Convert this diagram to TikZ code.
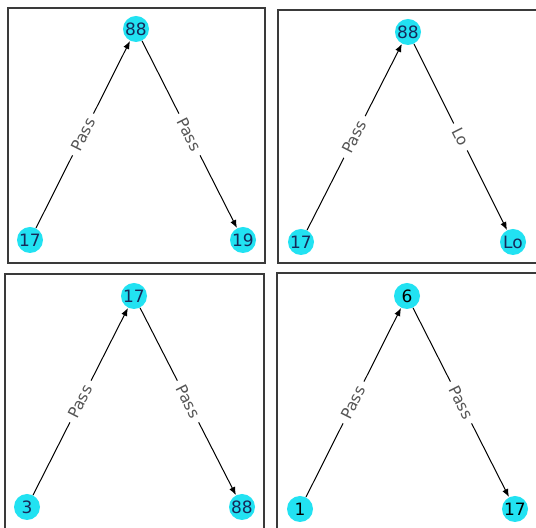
\documentclass[tikz,border=0pt]{standalone}
\usepackage{fontspec}
\setmainfont{DejaVu Sans}
\usepackage{xcolor}
\usepackage{tikz}
\usetikzlibrary{arrows.meta}
\definecolor{nodecyan}{HTML}{22E2F2}
\definecolor{navy}{HTML}{16295A}
\definecolor{frame}{HTML}{3A3A3A}
\definecolor{labelgray}{HTML}{555555}

\begin{document}
\begin{tikzpicture}[
  x=0.5pt, y=-0.5pt,
  vertex/.style={circle, fill=nodecyan, minimum size=13pt, inner sep=0pt, text=navy, font=\fontsize{8.5}{9}\selectfont},
  edgelabel/.style={sloped, fill=white, inner sep=3pt, text=labelgray, font=\fontsize{7.8}{8}\selectfont},
  arrow/.style={-{Latex[length=4pt, width=3.2pt]}, line width=0.5pt, color=black},
  panel/.style={draw=frame, line width=0.6pt}
]
\useasboundingbox (0,0) rectangle (536,528);
\clip (0,0) rectangle (536,528);
\fill[white] (0,0) rectangle (536,528);

% panel frames
\draw[panel] (8,8) rectangle (265,263);
\draw[panel] (278,10) rectangle (540,263);
\draw[panel] (5,274) rectangle (264,540);
\draw[panel] (277,273) rectangle (540,540);

% top left
\node[vertex] (one88) at (136,29) {88};
\node[vertex] (one17) at (30,240) {17};
\node[vertex] (one19) at (243,240) {19};
\draw[arrow] (one17) -- node[edgelabel] {Pass} (one88);
\draw[arrow] (one88) -- node[edgelabel] {Pass} (one19);

% top right
\node[vertex] (two88) at (408,32) {88};
\node[vertex] (two17) at (301,242) {17};
\node[vertex] (twoLo) at (513,242) {Lo};
\draw[arrow] (two17) -- node[edgelabel] {Pass} (two88);
\draw[arrow] (two88) -- node[edgelabel] {Lo} (twoLo);

% bottom left
\node[vertex] (three17) at (134,296) {17};
\node[vertex] (three3) at (27,507) {3};
\node[vertex] (three88) at (242,507) {88};
\draw[arrow] (three3) -- node[edgelabel] {Pass} (three17);
\draw[arrow] (three17) -- node[edgelabel] {Pass} (three88);

% bottom right
\node[vertex, text=black] (four6) at (407,296) {6};
\node[vertex, text=black] (four1) at (300,509) {1};
\node[vertex, text=black] (four17) at (515,509) {17};
\draw[arrow] (four1) -- node[edgelabel] {Pass} (four6);
\draw[arrow] (four6) -- node[edgelabel] {Pass} (four17);
\end{tikzpicture}
\end{document}
